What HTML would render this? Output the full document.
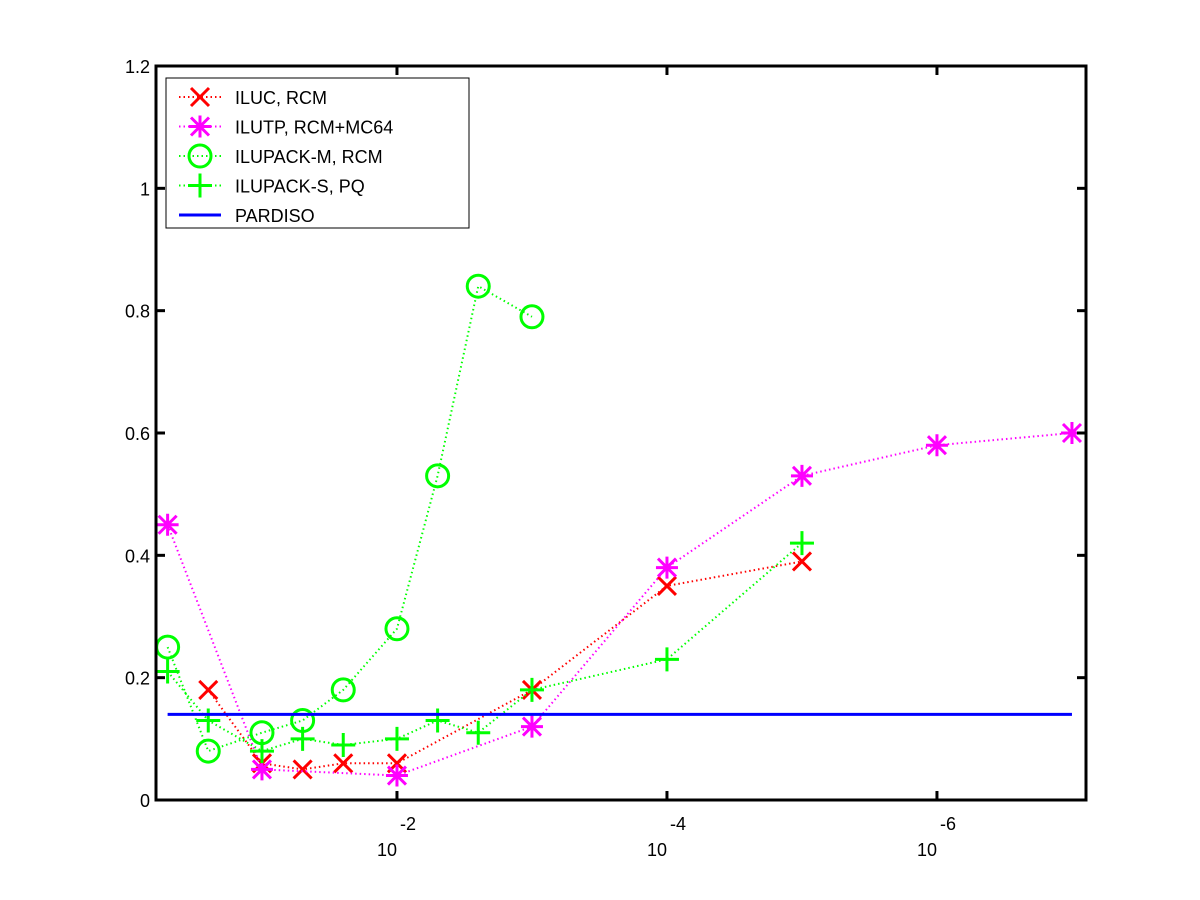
<!DOCTYPE html>
<html><head><meta charset="utf-8"><style>
body{margin:0;background:#fff;}
svg{display:block;font-family:"Liberation Sans",sans-serif;}
</style></head><body>
<svg id="chart" width="1200" height="900" viewBox="0 0 1200 900">
<rect x="0" y="0" width="1200" height="900" fill="#fff"/>
<g id="series"></g>
<rect x="156" y="66" width="930" height="734" fill="none" stroke="#000" stroke-width="3"/>
<g id="axes"></g>
<g id="legend">
<rect x="166" y="78" width="303" height="150" fill="#fff" stroke="#000" stroke-width="1"/>
</g>
</svg>
<script>
const yTicks=[0,0.2,0.4,0.6,0.8,1,1.2];
const yTickLabels=["0","0.2","0.4","0.6","0.8","1","1.2"];
const xTickExps=[-2,-4,-6];
const xTickLabels=["-2","-4","-6"];
const pardisoX=[0.5,1e-7];
const pardisoY=[0.14,0.14];
const ilucX=[0.25,0.1,0.05,0.025,0.01,1e-3,1e-4,1e-5];
const ilucY=[0.18,0.06,0.05,0.06,0.06,0.18,0.35,0.39];
const ilutpX=[0.5,0.1,0.01,1e-3,1e-4,1e-5,1e-6,1e-7];
const ilutpY=[0.45,0.05,0.04,0.12,0.38,0.53,0.58,0.60];
const ilupackMX=[0.5,0.25,0.1,0.05,0.025,0.01,0.005,0.0025,0.001];
const ilupackMY=[0.25,0.08,0.11,0.13,0.18,0.28,0.53,0.84,0.79];
const ilupackSX=[0.5,0.25,0.1,0.05,0.025,0.01,0.005,0.0025,0.001,1e-4,1e-5];
const ilupackSY=[0.21,0.13,0.08,0.10,0.09,0.10,0.13,0.11,0.18,0.23,0.42];

const NS="http://www.w3.org/2000/svg";
const X0=156,X1=1086,Y0=800,Y1=66;
const eMin=0.215,eMax=7.104;
function xs(v){return X0+(-Math.log10(v)-eMin)/(eMax-eMin)*(X1-X0);}
function ys(v){return Y0-(v/1.2)*(Y0-Y1);}
function el(tag,attrs,parent){const e=document.createElementNS(NS,tag);for(const k in attrs)e.setAttribute(k,attrs[k]);parent.appendChild(e);return e;}
const axes=document.getElementById('axes');
const ser=document.getElementById('series');

yTicks.forEach((t,i)=>{
  const y=ys(t);
  const g=el('g',{},axes);
  
  
  el('line',{x1:X0,x2:X0+9,y1:y,y2:y,stroke:'#000','stroke-width':3},g);
  el('line',{x1:X1-9,x2:X1,y1:y,y2:y,stroke:'#000','stroke-width':3},g);
  const tx=el('text',{x:X0-6,y:y+7,'text-anchor':'end','font-size':18},g);
  tx.textContent=yTickLabels[i];
});
xTickExps.forEach((e,i)=>{
  const x=xs(Math.pow(10,e));
  const g=el('g',{},axes);
  
  
  el('line',{x1:x,x2:x,y1:Y0,y2:Y0-9,stroke:'#000','stroke-width':3},g);
  el('line',{x1:x,x2:x,y1:Y1,y2:Y1+9,stroke:'#000','stroke-width':3},g);
  const t1=el('text',{x:x-10,y:856,'text-anchor':'middle','font-size':18},g);
  t1.textContent='10';
  const t2=el('text',{x:x+11,y:830,'text-anchor':'middle','font-size':18},g);
  t2.textContent=xTickLabels[i];
});

function marker(type,x,y,color,g){
  const s=9;
  if(type==='x'){
    el('path',{d:`M${x-s} ${y-s}L${x+s} ${y+s}M${x-s} ${y+s}L${x+s} ${y-s}`,stroke:color,'stroke-width':3,fill:'none'},g);
  }else if(type==='*'){
    el('path',{d:`M${x-s-2} ${y}L${x+s+2} ${y}M${x} ${y-s-2}L${x} ${y+s+2}M${x-s} ${y-s}L${x+s} ${y+s}M${x-s} ${y+s}L${x+s} ${y-s}`,stroke:color,'stroke-width':3,fill:'none'},g);
  }else if(type==='o'){
    el('circle',{cx:x,cy:y,r:11,stroke:color,'stroke-width':3,fill:'none'},g);
  }else if(type==='+'){
    el('path',{d:`M${x-12} ${y}L${x+12} ${y}M${x} ${y-12}L${x} ${y+12}`,stroke:color,'stroke-width':3,fill:'none'},g);
  }
}
function series(name,X,Y,color,type){
  const g=el('g',{},ser);
  
  
  const pts=X.map((v,i)=>xs(v)+','+ys(Y[i])).join(' ');
  el('polyline',{points:pts,fill:'none',stroke:color,'stroke-width':2,'stroke-dasharray':'1.5 3'},g);
  X.forEach((v,i)=>marker(type,xs(v),ys(Y[i]),color,g));
}
series('series-iluc',ilucX,ilucY,'#ff0000','x');
series('series-ilutp',ilutpX,ilutpY,'#ff00ff','*');
series('series-ilupack-m',ilupackMX,ilupackMY,'#00ff00','o');
series('series-ilupack-s',ilupackSX,ilupackSY,'#00ff00','+');
const pg=el('g',{},ser);


el('line',{x1:xs(pardisoX[0]),x2:xs(pardisoX[1]),y1:ys(pardisoY[0]),y2:ys(pardisoY[1]),stroke:'#0000ff','stroke-width':3},pg);

const leg=document.getElementById('legend');
const entries=[["ILUC, RCM",'#ff0000','x'],["ILUTP, RCM+MC64",'#ff00ff','*'],["ILUPACK-M, RCM",'#00ff00','o'],["ILUPACK-S, PQ",'#00ff00','+'],["PARDISO",'#0000ff','line']];
entries.forEach((en,i)=>{
  const y=97+i*29.5;
  const g=el('g',{},leg);
  
  
  if(en[2]==='line'){
    el('line',{x1:179,x2:221,y1:y,y2:y,stroke:en[1],'stroke-width':3},g);
  }else{
    el('line',{x1:179,x2:221,y1:y,y2:y,stroke:en[1],'stroke-width':2,'stroke-dasharray':'1.5 3'},g);
    marker(en[2],200,y,en[1],g);
  }
  const t=el('text',{x:235,y:y+7,'font-size':18},g);
  t.textContent=en[0];
});
</script>
</body></html>
